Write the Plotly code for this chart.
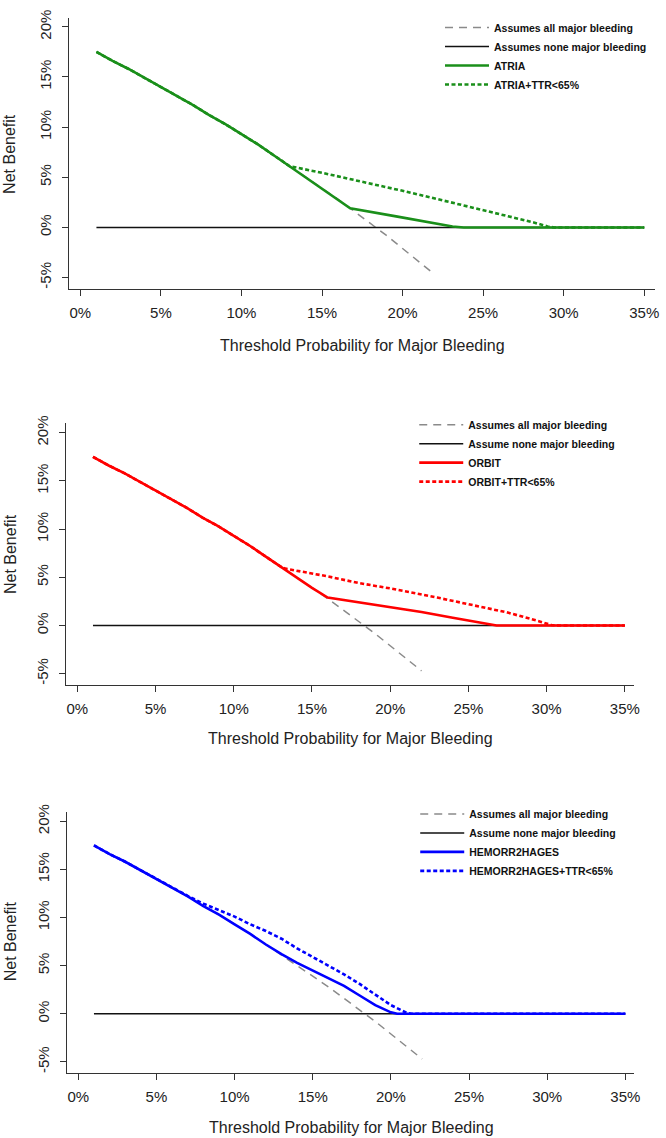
import plotly.graph_objects as go

W, H = 666, 1138

# ---------------- data (percent) ----------------
thr_all = [1, 2, 3, 4, 5, 6, 7, 8, 9, 10, 11, 12, 13, 14, 15, 16, 17, 18, 19, 20, 21, 22]
nb_all = [17.5, 16.6, 15.8, 14.9, 14.0, 13.1, 12.2, 11.2, 10.3, 9.3, 8.3, 7.2, 6.1, 5.0, 3.9, 2.8,
          1.6, 0.4, -0.8, -2.1, -3.4, -4.7]
thr_none = [1, 35]
nb_none = [0, 0]

atria_x = [1, 2, 3, 4, 5, 6, 7, 8, 9, 10, 11, 12, 13, 14, 15, 16, 16.75, 19.6, 23.1, 23.8, 35]
atria_y = [17.5, 16.6, 15.8, 14.9, 14.0, 13.1, 12.2, 11.2, 10.3, 9.3, 8.3, 7.2, 6.1, 5.0, 3.9, 2.8,
           1.9, 1.1, 0.1, 0.0, 0.0]
atria_ttr_x = [1, 2, 3, 4, 5, 6, 7, 8, 9, 10, 11, 12, 13, 15, 17, 20, 23, 26, 28, 29, 29.4, 35]
atria_ttr_y = [17.5, 16.6, 15.8, 14.9, 14.0, 13.1, 12.2, 11.2, 10.3, 9.3, 8.3, 7.2, 6.1, 5.45, 4.75,
               3.65, 2.5, 1.35, 0.55, 0.1, 0.0, 0.0]

orbit_x = [1, 2, 3, 4, 5, 6, 7, 8, 9, 10, 11, 12, 13, 14, 15, 16, 20, 22, 24, 26, 26.8, 35]
orbit_y = [17.5, 16.6, 15.8, 14.9, 14.0, 13.1, 12.2, 11.2, 10.3, 9.3, 8.3, 7.2, 6.1, 5.0, 3.9, 2.9,
           1.95, 1.4, 0.8, 0.2, 0.0, 0.0]
orbit_ttr_x = [1, 2, 3, 4, 5, 6, 7, 8, 9, 10, 11, 12, 13, 13.3, 16, 18, 20, 23, 25, 27.5, 29.5,
               30.3, 30.8, 35]
orbit_ttr_y = [17.5, 16.6, 15.8, 14.9, 14.0, 13.1, 12.2, 11.2, 10.3, 9.3, 8.3, 7.2, 6.1, 5.9, 5.1,
               4.4, 3.85, 2.9, 2.2, 1.35, 0.45, 0.05, 0.0, 0.0]

hem_x = [1, 2, 3, 4, 5, 6, 7, 8, 9, 10, 11, 12, 13, 14, 15, 16, 17, 18, 19, 20, 20.4, 35]
hem_y = [17.5, 16.6, 15.8, 14.9, 14.0, 13.1, 12.2, 11.2, 10.3, 9.3, 8.3, 7.2, 6.2, 5.3, 4.5, 3.7,
         2.9, 1.9, 0.9, 0.15, 0.0, 0.0]
hem_ttr_x = [1, 2, 3, 4, 5, 6, 7, 8, 9, 10, 11, 12, 13, 14, 15, 16, 17, 18, 19, 20, 21, 21.3, 35]
hem_ttr_y = [17.5, 16.6, 15.8, 14.9, 14.0, 13.1, 12.25, 11.45, 10.75, 10.1, 9.3, 8.6, 7.8, 6.8,
             5.9, 5.0, 4.1, 3.1, 2.0, 0.9, 0.1, 0.0, 0.0]

x_ticks = [0, 5, 10, 15, 20, 25, 30, 35]
y_ticks = [-5, 0, 5, 10, 15, 20]

panels = [
    dict(name="ATRIA", color="#1a8f1a", x=atria_x, y=atria_y, x2=atria_ttr_x, y2=atria_ttr_y,
         none_label="Assumes none major bleeding"),
    dict(name="ORBIT", color="#ff0000", x=orbit_x, y=orbit_y, x2=orbit_ttr_x, y2=orbit_ttr_y,
         none_label="Assume none major bleeding"),
    dict(name="HEMORR2HAGES", color="#0000ff", x=hem_x, y=hem_y, x2=hem_ttr_x, y2=hem_ttr_y,
         none_label="Assume none major bleeding"),
]

# layout geometry in pixels: (x_left, x_right, y_top, y_bottom, xrange, yrange)
geo = [
    (70, 661, 10, 283, [-0.68, 35.67], [-6.14, 20.89]),
    (67, 640, 418, 682, [-0.70, 35.6], [-6.19, 21.0]),
    (68, 640, 810, 1073, [-0.70, 35.57], [-6.2, 20.94]),
]
legend_pos = [(444, 5), (418, 405), (419, 797)]
xtitle_pos = [(366, 340), (354, 736), (355, 1127)]
ytitle_pos = [(10, 147), (10, 550), (10, 940)]

fig = go.Figure()
tick_font = dict(family="Liberation Sans, Arial, sans-serif", size=15, color="#222")

for i, p in enumerate(panels):
    k = "" if i == 0 else str(i + 1)
    xa, ya = "x" + k, "y" + k
    lg = "legend" + k
    fig.add_trace(go.Scatter(x=thr_all, y=nb_all, mode="lines", name="Assumes all major bleeding",
                             line=dict(color="#8a8a8a", width=1.5, dash="8px,6px"),
                             xaxis=xa, yaxis=ya, legend=lg))
    fig.add_trace(go.Scatter(x=thr_none, y=nb_none, mode="lines", name=p["none_label"],
                             line=dict(color="#111", width=1.5),
                             xaxis=xa, yaxis=ya, legend=lg))
    fig.add_trace(go.Scatter(x=p["x"], y=p["y"], mode="lines", name=p["name"],
                             line=dict(color=p["color"], width=2.6),
                             xaxis=xa, yaxis=ya, legend=lg))
    fig.add_trace(go.Scatter(x=p["x2"], y=p["y2"], mode="lines", name=p["name"] + "+TTR<65%",
                             line=dict(color=p["color"], width=2.6, dash="4px,2.5px"),
                             xaxis=xa, yaxis=ya, legend=lg))

    xl, xr, yt, yb, xrng, yrng = geo[i]
    fig.layout["xaxis" + k] = dict(
        domain=[xl / W, xr / W], range=xrng, anchor=ya, tickvals=x_ticks,
        ticktext=[f"{t}%" for t in x_ticks], ticks="outside", ticklen=6, tickcolor="#333",
        showline=True, linecolor="#333", linewidth=1, showgrid=False, zeroline=False,
        tickfont=tick_font, ticklabelstandoff=4, fixedrange=True)
    fig.layout["yaxis" + k] = dict(
        domain=[1 - yb / H, 1 - yt / H], range=yrng, anchor=xa, tickvals=y_ticks,
        ticktext=[f"{t}%" for t in y_ticks], ticks="outside", ticklen=6, tickcolor="#333",
        showline=True, linecolor="#333", linewidth=1, showgrid=False, zeroline=False,
        tickfont=tick_font, tickangle=-90, ticklabelstandoff=5, fixedrange=True)

    lx, ly = legend_pos[i]
    fig.layout[lg] = dict(
        x=lx / W, y=1 - ly / H, xanchor="left", yanchor="top", bgcolor="rgba(0,0,0,0)",
        font=dict(family="Liberation Sans, Arial, sans-serif", size=10.5, color="#111",
                  weight="bold"),
        itemwidth=44, tracegroupgap=0, borderwidth=0)

    tx, ty = xtitle_pos[i]
    fig.add_annotation(text="Threshold Probability for Major Bleeding", x=tx / W, y=1 - ty / H,
                       xref="paper", yref="paper", showarrow=False, xanchor="center",
                       yanchor="middle", font=dict(family="Liberation Sans, Arial, sans-serif",
                                                   size=16, color="#222"))
    yx, yy = ytitle_pos[i]
    fig.add_annotation(text="Net Benefit", x=yx / W, y=1 - yy / H, xref="paper", yref="paper",
                       showarrow=False, xanchor="center", yanchor="middle", textangle=-90,
                       font=dict(family="Liberation Sans, Arial, sans-serif", size=16,
                                 color="#222"))

fig.update_layout(width=W, height=H, margin=dict(l=0, r=0, t=0, b=0),
                  paper_bgcolor="white", plot_bgcolor="white", showlegend=True)

fig.write_html(
    "out.html",
    config={"responsive": False, "displayModeBar": False},
    post_script="document.documentElement.style.margin='0';document.body.style.margin='0';"
                "document.documentElement.style.overflow='hidden';"
                "document.body.style.overflow='hidden';",
)
